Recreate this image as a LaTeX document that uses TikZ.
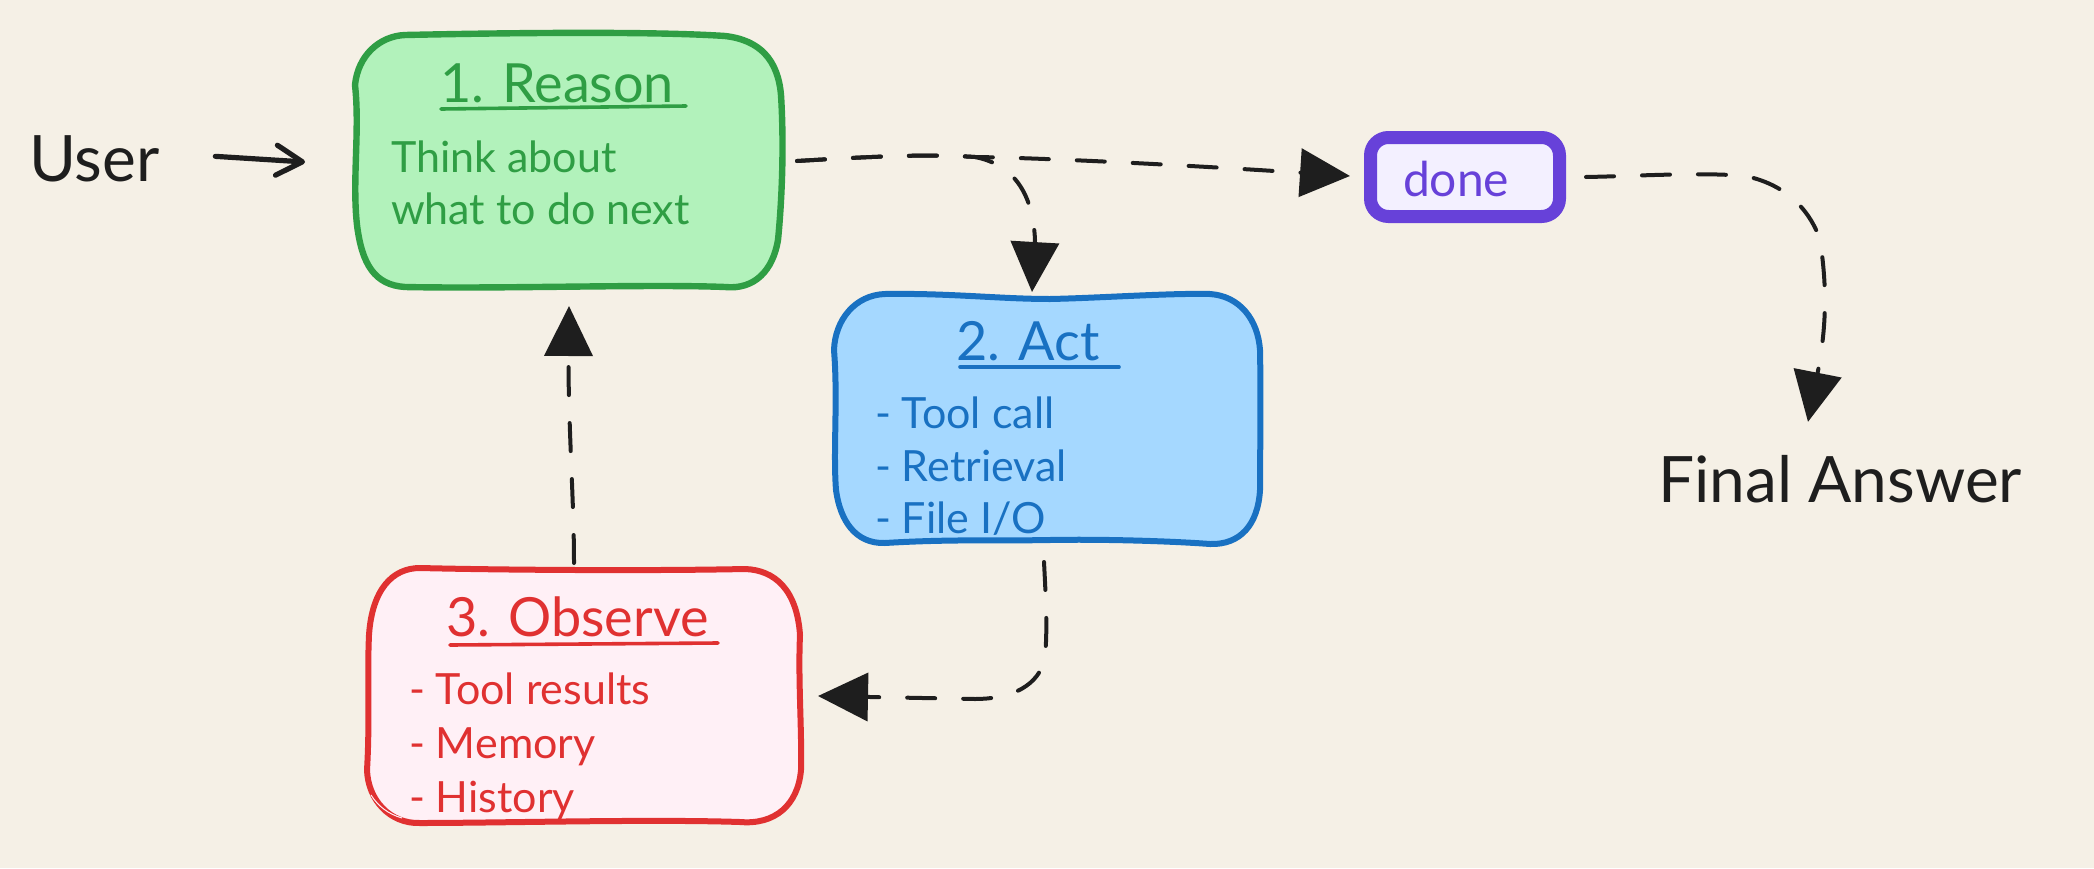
\documentclass[tikz,border=0pt]{standalone}
\usepackage{fontspec}
\setmainfont{Lato}
\usetikzlibrary{arrows.meta,calc}
\definecolor{paper}{HTML}{F5F0E6}
\definecolor{ink}{HTML}{1E1E1E}
\definecolor{greenline}{HTML}{2F9E44}
\definecolor{greenfill}{HTML}{B2F2BB}
\definecolor{blueline}{HTML}{1971C2}
\definecolor{bluefill}{HTML}{A5D8FF}
\definecolor{redline}{HTML}{E03131}
\definecolor{redfill}{HTML}{FFF0F6}
\definecolor{violetline}{HTML}{6741D9}
\definecolor{violetfill}{HTML}{F3F0FF}
\tikzset{
  area/.style={inner sep=0pt,outer sep=0pt,minimum width=#1},
  lbl/.style={anchor=base west,inner sep=0pt,outer sep=0pt},
  big/.style={lbl,text=ink,font=\fontsize{32}{32}\selectfont},
  head/.style={lbl,font=\fontsize{27}{27}\selectfont},
  body/.style={lbl,font=\fontsize{21.5}{21.5}\selectfont},
  handbox/.style={line width=3pt,line join=round},
  rule/.style={line width=1.8pt,line cap=round},
  dashconn/.style={draw=ink,line width=2pt,line cap=round,dash pattern=on 14pt off 14pt,
     -{Triangle[length=25pt,width=24pt]}},
  dashplain/.style={draw=ink,line width=2pt,line cap=round,dash pattern=on 14pt off 14pt},
}
\begin{document}
\begin{tikzpicture}[x=0.5pt,y=-0.5pt]
\useasboundingbox (0,0) rectangle (2094,868);
\fill[paper] (0,0) rectangle (2094,868);
% box outlines
\draw[handbox,draw=greenline,fill=greenfill,line width=3.2pt]
  (405,35) .. controls (500,33) and (650,31) .. (725,36)
  .. controls (760,40) and (778,60) .. (781,95)
  .. controls (785,160) and (780,220) .. (778,240)
  .. controls (773,270) and (755,290) .. (725,287)
  .. controls (650,284) and (500,289) .. (405,287)
  .. controls (375,285) and (362,265) .. (357,225)
  .. controls (352,180) and (360,130) .. (355,85)
  .. controls (358,55) and (380,36) .. (405,35) -- cycle;
\draw[handbox,draw=blueline,fill=bluefill]
  (885,294) .. controls (950,293) and (1000,299) .. (1050,299)
  .. controls (1100,298) and (1170,293) .. (1210,294)
  .. controls (1240,296) and (1258,320) .. (1260,350)
  .. controls (1261,400) and (1260,460) .. (1260,490)
  .. controls (1258,525) and (1240,545) .. (1210,544)
  .. controls (1170,541) and (1100,539) .. (1050,540)
  .. controls (1000,541) and (950,539) .. (885,543)
  .. controls (855,544) and (840,520) .. (836,490)
  .. controls (833,450) and (838,400) .. (834,350)
  .. controls (835,320) and (855,295) .. (885,294) -- cycle;
\draw[handbox,draw=redline,fill=redfill]
  (420,568) .. controls (500,570) and (650,571) .. (745,569)
  .. controls (775,570) and (797,590) .. (800,635)
  .. controls (798,680) and (802,730) .. (801,770)
  .. controls (798,805) and (775,825) .. (740,822)
  .. controls (650,819) and (500,823) .. (420,823)
  .. controls (390,824) and (368,800) .. (367,770)
  .. controls (370,720) and (367,680) .. (369,635)
  .. controls (372,590) and (392,568) .. (420,568) -- cycle;
\draw[redfill,line width=0.5pt] (371,795) .. controls (378,806) and (388,814) .. (402,818);
\draw[draw=violetline,fill=violetfill,line width=6.5pt,rounded corners=9pt]
  (1370.5,137.5) rectangle (1559.5,216.5);
% named areas
\node[area=215pt,minimum height=128pt] (reason) at (568,161) {};
\node[area=215pt,minimum height=125pt] (act) at (1047,419) {};
\node[area=218pt,minimum height=128pt] (observe) at (585,696) {};
\node[area=98pt,minimum height=46pt] (done) at (1465,177) {};
% labels
\node[big] (user) at (29,181) {User};
\node[big] (final) at (1658,502) {Final Answer};
\node[head,text=greenline] (h1) at (440,102) {1. Reason};
\node[body,text=greenline] (t1) at (391,172) {Think about};
\node[body,text=greenline] (t2) at (391,224) {what to do next};
\node[head,text=blueline] (h2) at (956,360) {2. Act};
\node[body,text=blueline] (a1) at (875,428) {- Tool call};
\node[body,text=blueline] (a2) at (875,481) {- Retrieval};
\node[body,text=blueline] (a3) at (875,533) {- File I/O};
\node[head,text=redline] (h3) at (446,636) {3. Observe};
\node[body,text=redline] (o1) at (409,704) {- Tool results};
\node[body,text=redline] (o2) at (409,758) {- Memory};
\node[body,text=redline] (o3) at (409,812) {- History};
\node[lbl,text=violetline,font=\fontsize{24}{24}\selectfont] (dn) at (1403,196) {done};
% underlines
\draw[rule,greenline] (441,109) -- (686,106);
\draw[rule,blueline] (960,367) -- (1119,367);
\draw[rule,redline] (450,645) -- (718,643);
% connectors
\draw[ink,line width=2.6pt,line cap=round,
  -{Straight Barb[length=13pt,width=15pt,round,line width=2.6pt]}]
  ($(user.east)+(56,-2)$) -- ($(reason.west)+(-48,1)$);
\draw[dashconn] ($(reason.east)+(14,0)$) .. controls (880,156) and (930,154) .. (975,157)
  .. controls (1050,158) and (1200,166) .. ($(done.west)+(-17,-1)$);
\draw[dashconn] ($(reason.east)+(14,0)$) .. controls (880,156) and (930,154) .. (975,157)
  .. controls (1015,165) and (1033,195) .. (1035,240) -- ($(act.north)+(-15,-2)$);
\draw[dashconn] ($(done.east)+(23,0)$) .. controls (1640,176) and (1700,172) .. (1745,176)
  .. controls (1790,185) and (1812,215) .. (1820,240)
  .. controls (1826,280) and (1828,320) .. ($(final.north)+(-32,-33)$);
\draw[dashconn] ($(act.south)+(-3,18)$) .. controls (1046,600) and (1048,640) .. (1044,662)
  .. controls (1035,690) and (1005,699) .. (975,699) -- ($(observe.east)+(15,0)$);
\draw[dashconn] ($(observe.north)+(-11,-5)$) .. controls (574,500) and (568,420) .. ($(reason.south)+(1,17)$);
\end{tikzpicture}
\end{document}
